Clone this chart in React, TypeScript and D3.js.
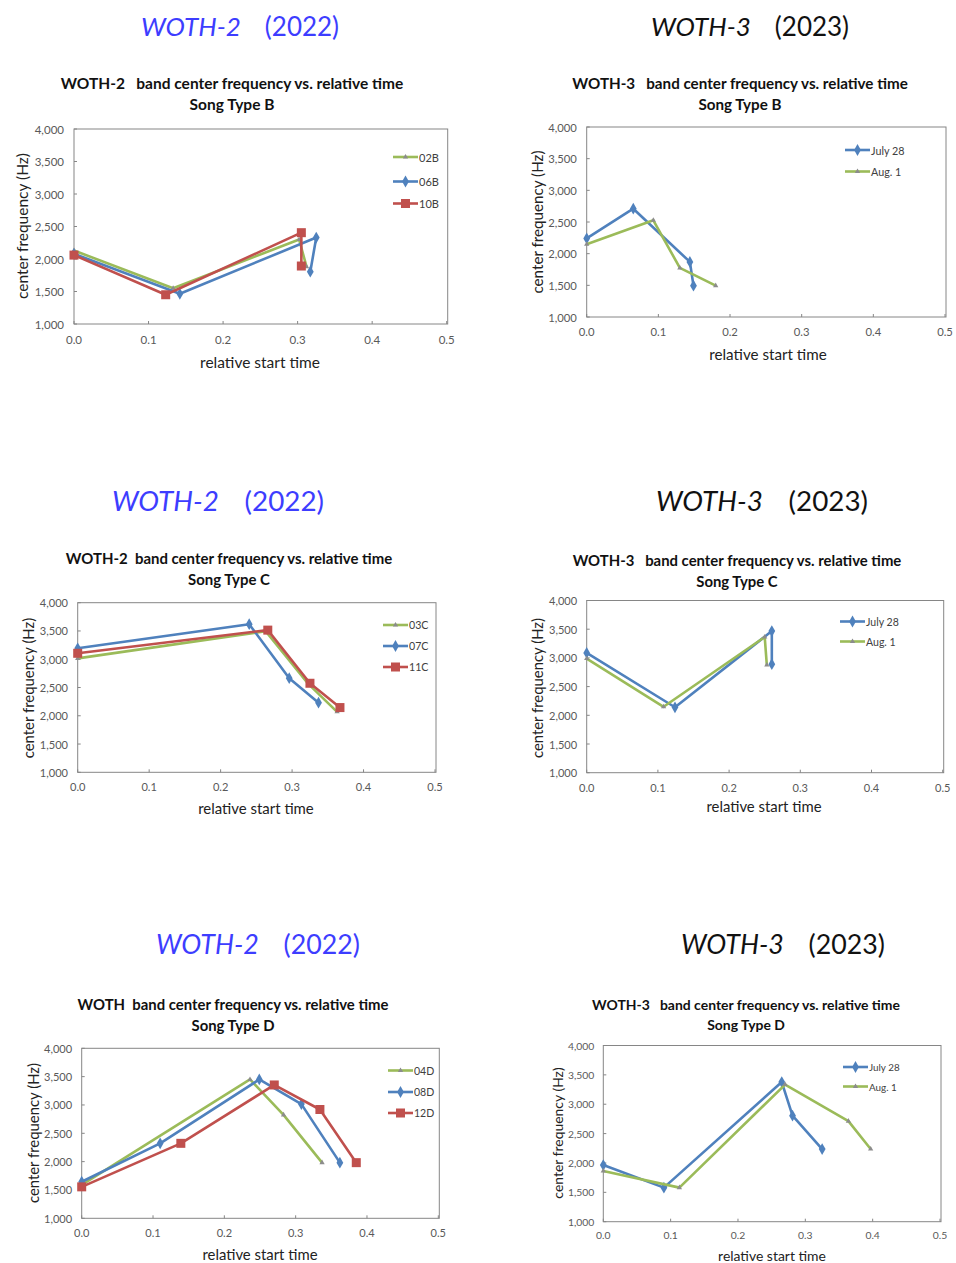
import React from "react";
import * as d3 from "d3";

// values (x = relative start time, y = center frequency Hz)
const s02B = [[0, 2130], [0.133, 1550], [0.302, 2300], [0.312, 1880]];
const s06B = [[0, 2080], [0.142, 1465], [0.325, 2330], [0.317, 1805]];
const s10B = [[0, 2060], [0.123, 1450], [0.305, 2405], [0.305, 1892]];

const julyB = [[0, 2240], [0.065, 2710], [0.144, 1870], [0.149, 1495]];
const augB = [[0, 2150], [0.093, 2527], [0.13, 1775], [0.18, 1495]];

const s03C = [[0, 3015], [0.263, 3495], [0.323, 2560], [0.363, 2070]];
const s07C = [[0, 3193], [0.24, 3620], [0.296, 2665], [0.337, 2232]];
const s11C = [[0, 3105], [0.266, 3515], [0.325, 2575], [0.367, 2145]];

const julyC = [[0, 3087], [0.124, 2140], [0.26, 3467], [0.26, 2890]];
const augC = [[0, 2988], [0.108, 2148], [0.25, 3365], [0.253, 2875]];

const s04D = [[0, 1590], [0.236, 3450], [0.283, 2825], [0.337, 1982]];
const s08D = [[0, 1645], [0.11, 2323], [0.249, 3450], [0.308, 3015], [0.362, 1982]];
const s12D = [[0, 1555], [0.139, 2323], [0.27, 3353], [0.334, 2920], [0.385, 1982]];

const julyD = [[0, 1965], [0.09, 1580], [0.265, 3377], [0.281, 2805], [0.325, 2237]];
const augD = [[0, 1865], [0.113, 1580], [0.27, 3335], [0.364, 2712], [0.397, 2237]];

const xTicks = [0, 0.1, 0.2, 0.3, 0.4, 0.5];
const yTicks = [1000, 1500, 2000, 2500, 3000, 3500, 4000];

const GREEN = "#9bbb59";
const BLUE = "#4f81bd";
const RED = "#c0504d";
const FONT = "Lato, 'Open Sans', sans-serif";

type Series = { name: string; color: string; marker: string; data: number[][] };

const panels = [
  {
    heading: ["WOTH-2", "(2022)"], headColor: "#3d3dff", hx: 240, hy: 26, hs: 1,
    title: "WOTH-2   band center frequency vs. relative time", sub: "Song Type B", tx: 232, ty: 83, fs: 1,
    x0: 74, x1: 446.7, y0: 129, y1: 324, lx: 393, ly: [157, 181.5, 203.5],
    ylx: 22, yly: 226, xlx: 260, xly: 362,
    series: [
      { name: "02B", color: GREEN, marker: "tri", data: s02B },
      { name: "06B", color: BLUE, marker: "dia", data: s06B },
      { name: "10B", color: RED, marker: "sq", data: s10B },
    ],
  },
  {
    heading: ["WOTH-3", "(2023)"], headColor: "#111", hx: 750, hy: 26, hs: 1,
    title: "WOTH-3   band center frequency vs. relative time", sub: "Song Type B", tx: 740, ty: 83, fs: 0.98,
    x0: 586.7, x1: 945, y0: 127, y1: 317, lx: 845, ly: [150, 171.5],
    ylx: 537, yly: 222, xlx: 768, xly: 354,
    series: [
      { name: "July 28", color: BLUE, marker: "dia", data: julyB },
      { name: "Aug. 1", color: GREEN, marker: "tri", data: augB },
    ],
  },
  {
    heading: ["WOTH-2", "(2022)"], headColor: "#3d3dff", hx: 218, hy: 500, hs: 1.07,
    title: "WOTH-2  band center frequency vs. relative time", sub: "Song Type C", tx: 229, ty: 558, fs: 0.965,
    x0: 77.7, x1: 435, y0: 602.7, y1: 772.3, lx: 383, ly: [625, 646, 667],
    ylx: 28, yly: 688, xlx: 256, xly: 808,
    series: [
      { name: "03C", color: GREEN, marker: "tri", data: s03C },
      { name: "07C", color: BLUE, marker: "dia", data: s07C },
      { name: "11C", color: RED, marker: "sq", data: s11C },
    ],
  },
  {
    heading: ["WOTH-3", "(2023)"], headColor: "#111", hx: 762, hy: 500, hs: 1.07,
    title: "WOTH-3   band center frequency vs. relative time", sub: "Song Type C", tx: 737, ty: 560, fs: 0.96,
    x0: 586.7, x1: 942.7, y0: 600.5, y1: 772.7, lx: 840, ly: [621.5, 641.5],
    ylx: 537, yly: 688, xlx: 764, xly: 806,
    series: [
      { name: "July 28", color: BLUE, marker: "dia", data: julyC },
      { name: "Aug. 1", color: GREEN, marker: "tri", data: augC },
    ],
  },
  {
    heading: ["WOTH-2", "(2022)"], headColor: "#3d3dff", hx: 258, hy: 944, hs: 1.03,
    title: "WOTH  band center frequency vs. relative time", sub: "Song Type D", tx: 233, ty: 1004, fs: 0.96,
    x0: 81.7, x1: 438.3, y0: 1048.3, y1: 1218.3, lx: 388, ly: [1070.5, 1092, 1113],
    ylx: 33, yly: 1133, xlx: 260, xly: 1254,
    series: [
      { name: "04D", color: GREEN, marker: "tri", data: s04D },
      { name: "08D", color: BLUE, marker: "dia", data: s08D },
      { name: "12D", color: RED, marker: "sq", data: s12D },
    ],
  },
  {
    heading: ["WOTH-3", "(2023)"], headColor: "#111", hx: 783, hy: 944, hs: 1.03,
    title: "WOTH-3   band center frequency vs. relative time", sub: "Song Type D", tx: 746, ty: 1004, fs: 0.9,
    x0: 603.3, x1: 940, y0: 1045.5, y1: 1221.7, lx: 843, ly: [1067, 1086.5],
    ylx: 557, yly: 1133, xlx: 772, xly: 1255,
    series: [
      { name: "July 28", color: BLUE, marker: "dia", data: julyD },
      { name: "Aug. 1", color: GREEN, marker: "tri", data: augD },
    ],
  },
];

function Marker({ type, color, x, y }: { type: string; color: string; x: number; y: number }) {
  if (type === "sq") return <rect x={x - 4.5} y={y - 4.5} width={9} height={9} fill={color} />;
  if (type === "dia") {
    const p = d3.symbol(d3.symbolDiamond, 40)();
    return <path d={p || ""} transform={`translate(${x},${y})`} fill={color} />;
  }
  const t = d3.symbol(d3.symbolTriangle, 12)();
  return <path d={t || ""} transform={`translate(${x},${y})`} fill="#8c8c8c" />;
}

function Panel({ p }: { p: any }) {
  const x = d3.scaleLinear().domain([0, 0.5]).range([p.x0, p.x1]);
  const y = d3.scaleLinear().domain([1000, 4000]).range([p.y1, p.y0]);
  const line = d3.line<number[]>().x((d) => x(d[0])).y((d) => y(d[1]));
  const right = Math.min(x(0.5) + 1, 950);
  const f = p.fs;
  return (
    <g fontFamily={FONT}>
      <text x={p.hx} y={p.hy} textAnchor="middle" dominantBaseline="central" fontSize={26 * p.hs} fill={p.headColor}>
        <tspan fontStyle="italic">{p.heading[0]}</tspan>
        <tspan dx={24 * p.hs}>{p.heading[1]}</tspan>
      </text>
      <text x={p.tx} y={p.ty} textAnchor="middle" dominantBaseline="central" fontSize={15.5 * f} fontWeight="bold" fill="#111" xmlSpace="preserve">
        {p.title}
      </text>
      <text x={p.tx} y={p.ty + 20.5} textAnchor="middle" dominantBaseline="central" fontSize={15.5 * f} fontWeight="bold" fill="#111">
        {p.sub}
      </text>
      <rect x={p.x0} y={p.y0} width={right - p.x0} height={p.y1 - p.y0} fill="none" stroke="#868686" strokeWidth={1} />
      {yTicks.map((t) => (
        <g key={t}>
          <line x1={p.x0} x2={p.x0 + 3} y1={y(t)} y2={y(t)} stroke="#868686" />
          <text x={p.x0 - 10 * f} y={y(t)} textAnchor="end" dominantBaseline="central" fontSize={11.5 * f} fill="#595959">
            {d3.format(",")(t)}
          </text>
        </g>
      ))}
      {xTicks.map((t) => (
        <g key={t}>
          <line x1={x(t)} x2={x(t)} y1={p.y1} y2={p.y1 - 3} stroke="#868686" />
          <text x={x(t)} y={p.y1 + 15 * f} textAnchor="middle" dominantBaseline="central" fontSize={11.5 * f} fill="#595959">
            {d3.format(".1f")(t)}
          </text>
        </g>
      ))}
      <text transform={`translate(${p.ylx},${p.yly}) rotate(-90)`} textAnchor="middle" dominantBaseline="central" fontSize={15.5 * f} fill="#222">
        center frequency (Hz)
      </text>
      <text x={p.xlx} y={p.xly} textAnchor="middle" dominantBaseline="central" fontSize={15.5 * f} fill="#222">
        relative start time
      </text>
      {p.series.map((s: Series) => (
        <g key={s.name}>
          <path d={line(s.data) || ""} fill="none" stroke={s.color} strokeWidth={2.6} strokeLinejoin="round" />
          {s.data.map((d, i) => (
            <Marker key={i} type={s.marker} color={s.color} x={x(d[0])} y={y(d[1])} />
          ))}
        </g>
      ))}
      {p.series.map((s: Series, i: number) => (
        <g key={"lg" + s.name}>
          <line x1={p.lx} x2={p.lx + 25} y1={p.ly[i]} y2={p.ly[i]} stroke={s.color} strokeWidth={2.6} />
          <Marker type={s.marker} color={s.color} x={p.lx + 12.5} y={p.ly[i]} />
          <text x={p.lx + 26} y={p.ly[i]} dominantBaseline="central" fontSize={11 * f} fill="#404040">
            {s.name}
          </text>
        </g>
      ))}
    </g>
  );
}

export default function App() {
  return (
    <svg width={956} height={1263} style={{ position: "absolute", left: 0, top: 0, background: "#fff" }}>
      {panels.map((p, i) => (
        <Panel key={i} p={p} />
      ))}
    </svg>
  );
}
